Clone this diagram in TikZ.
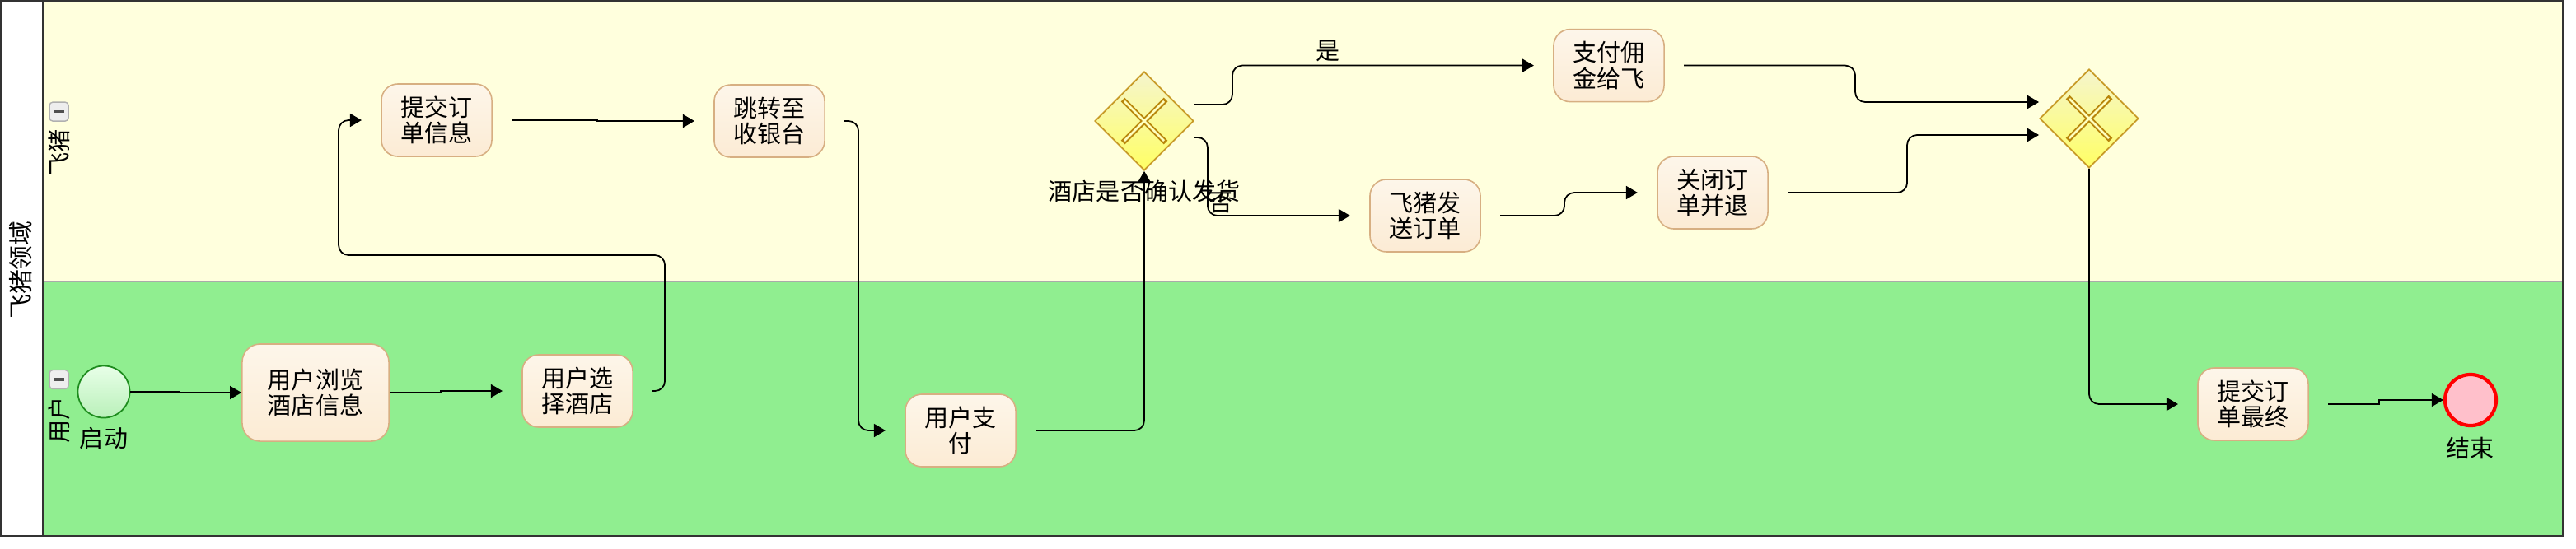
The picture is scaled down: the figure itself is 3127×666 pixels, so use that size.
\documentclass[tikz,border=0pt]{standalone}
\usepackage{fontspec}
\newfontfamily\cjk{Noto Sans CJK SC}
\usetikzlibrary{shapes.geometric,arrows.meta,calc}
\definecolor{laneone}{RGB}{255,255,221}
\definecolor{lanetwo}{RGB}{144,238,144}
\definecolor{boxborder}{RGB}{215,175,130}
\definecolor{boxtop}{RGB}{253,246,234}
\definecolor{boxbot}{RGB}{252,235,212}
\definecolor{gwborder}{RGB}{200,155,40}
\definecolor{gwtop}{RGB}{245,245,205}
\definecolor{gwbot}{RGB}{255,255,100}
\definecolor{xdark}{RGB}{184,134,11}
\definecolor{xlight}{RGB}{255,255,190}
\definecolor{starttop}{RGB}{232,255,232}
\definecolor{startbot}{RGB}{185,240,185}
\definecolor{startborder}{RGB}{30,140,30}
\definecolor{endfill}{RGB}{255,192,203}
\definecolor{minusfill}{RGB}{238,238,238}
\definecolor{minusborder}{RGB}{176,176,176}
\definecolor{minusbar}{RGB}{80,80,80}
\definecolor{divider}{RGB}{170,170,170}
\definecolor{frame}{RGB}{51,51,51}
\begin{document}
\begin{tikzpicture}[x=0.01cm,y=-0.01cm,
  flow/.style={draw=black, line width=0.5pt, rounded corners=0.12cm,
    -{Triangle[length=0.14cm,width=0.16cm]}},
  jogflow/.style={flow, sharp corners},
  task/.style={rectangle, rounded corners=0.2cm, draw=boxborder, line width=0.45pt,
    top color=boxtop, bottom color=boxbot, align=center, inner sep=0pt,
    font=\cjk\fontsize{8.25}{9}\selectfont},
  smalltask/.style={task, minimum width=1.34cm, minimum height=0.88cm,
    outer xsep=0.24cm, outer ysep=0pt},
  bigtask/.style={task, minimum width=1.78cm, minimum height=1.18cm, rounded corners=0.22cm},
  gateway/.style={diamond, aspect=1, minimum width=1.2cm, minimum height=1.2cm,
    inner sep=0pt, draw=gwborder, line width=0.5pt, top color=gwtop, bottom color=gwbot},
  xouter/.style={draw=xdark, line width=1.9pt, line cap=butt},
  xinner/.style={draw=xlight, line width=0.75pt, line cap=butt,
    shorten <=0.028cm, shorten >=0.028cm},
  lbl/.style={font=\cjk\fontsize{8.25}{9}\selectfont, inner sep=0pt},
  lanelbl/.style={font=\cjk\fontsize{8}{9}\selectfont, inner sep=0pt, rotate=90},
  minusbox/.style={rectangle, rounded corners=0.04cm, draw=minusborder, fill=minusfill,
    line width=0.4pt, minimum size=0.23cm, inner sep=0pt},
  minusline/.style={draw=minusbar, line width=0.9pt}
]
\useasboundingbox (0,0) rectangle (3127,666);
\fill[white] (0,0) rectangle (3127,666);
% lanes
\fill[laneone] (52,1.4) rectangle (3111,342);
\fill[lanetwo] (52,342) rectangle (3111,651);
\draw[divider, line width=0.6pt] (52,342) -- (3111,342);
\draw[frame, line width=0.6pt] (1.4,1.4) rectangle (3111,651);
\draw[frame, line width=0.6pt] (52,1.4) -- (52,651);
% pool / lane labels
\node[font=\cjk\fontsize{8.5}{9}\selectfont, inner sep=0pt, rotate=90] (pool) at (25,328) {飞猪领域};
\node[minusbox] (m1) at (71.6,135.6) {};
\draw[minusline] ($(m1.center)+(-6.5,0)$) -- ($(m1.center)+(6.5,0)$);
\node[lanelbl] (lane1) at (72,185) {飞猪};
\node[minusbox] (m2) at (71.6,461) {};
\draw[minusline] ($(m2.center)+(-6.5,0)$) -- ($(m2.center)+(6.5,0)$);
\node[lanelbl] (lane2) at (72,510) {用户};
% events
\node[circle, minimum size=0.63cm, inner sep=0pt, draw=startborder, line width=0.5pt,
  top color=starttop, bottom color=startbot] (start) at (126,476) {};
\node[lbl] (startlbl) at (126,532) {启动};
\node[circle, minimum size=0.62cm, inner sep=0pt, draw=red, line width=1.2pt,
  fill=endfill] (end) at (2999,486) {};
\node[lbl] (endlbl) at (2998,544) {结束};
% tasks
\node[bigtask] (browse) at (383,477) {用户浏览\\酒店信息};
\node[smalltask] (select) at (701,475) {用户选\\择酒店};
\node[smalltask] (submit) at (530,146) {提交订\\单信息};
\node[smalltask] (jump) at (934,147) {跳转至\\收银台};
\node[smalltask] (pay) at (1166,523) {用户支\\付};
\node[smalltask] (commission) at (1953,79.6) {支付佣\\金给飞};
\node[smalltask] (send) at (1730,262) {飞猪发\\送订单};
\node[smalltask] (close) at (2079,234) {关闭订\\单并退};
\node[smalltask] (final) at (2735,491) {提交订\\单最终};
% gateways
\node[gateway] (gw1) at (1389,147) {};
\node[gateway] (gw2) at (2536,144) {};
\foreach \g in {gw1,gw2}{
  \draw[xouter] ($(\g.center)+(-26,-26)$) -- ($(\g.center)+(26,26)$);
  \draw[xouter] ($(\g.center)+(-26,26)$) -- ($(\g.center)+(26,-26)$);
  \draw[xinner] ($(\g.center)+(-26,-26)$) -- ($(\g.center)+(26,26)$);
  \draw[xinner] ($(\g.center)+(-26,26)$) -- ($(\g.center)+(26,-26)$);
}
\node[lbl] (gw1lbl) at (1389,232) {酒店是否确认发货};
% connectors
\draw[jogflow] (start.east) -- ++(59,0) |- (browse.west);
\draw[jogflow] (browse.east) -- ++(62,0) |- (select.west);
\draw[flow] (select.east) -- ++(15,0) -- ++(0,-165) -- ++(-396,0) |- (submit.west);
\draw[jogflow] (submit.east) -- ++(104,0) |- (jump.west);
\draw[flow] (jump.east) -- ++(17,0) |- (pay.west);
\draw[flow] (pay.east) -| (gw1.south);
\draw[flow] ($(gw1.east)+(0,-20)$) -- ++(46,0) |- (commission.west);
\node[lbl] (yeslbl) at (1612,62) {是};
\draw[flow] ($(gw1.east)+(0,20)$) -- ++(16,0) |- (send.west);
\node[lbl] (nolbl) at (1482,246) {否};
\draw[flow] (send.east) -- ++(78,0) |- (close.west);
\draw[flow] (commission.east) -- ++(208,0) |- ($(gw2.west)+(0,-20)$);
\draw[flow] (close.east) -- ++(145,0) |- ($(gw2.west)+(0,20)$);
\draw[flow] (gw2.south) |- (final.west);
\draw[jogflow] (final.east) -- ++(62,0) |- (end.west);
\end{tikzpicture}
\end{document}
